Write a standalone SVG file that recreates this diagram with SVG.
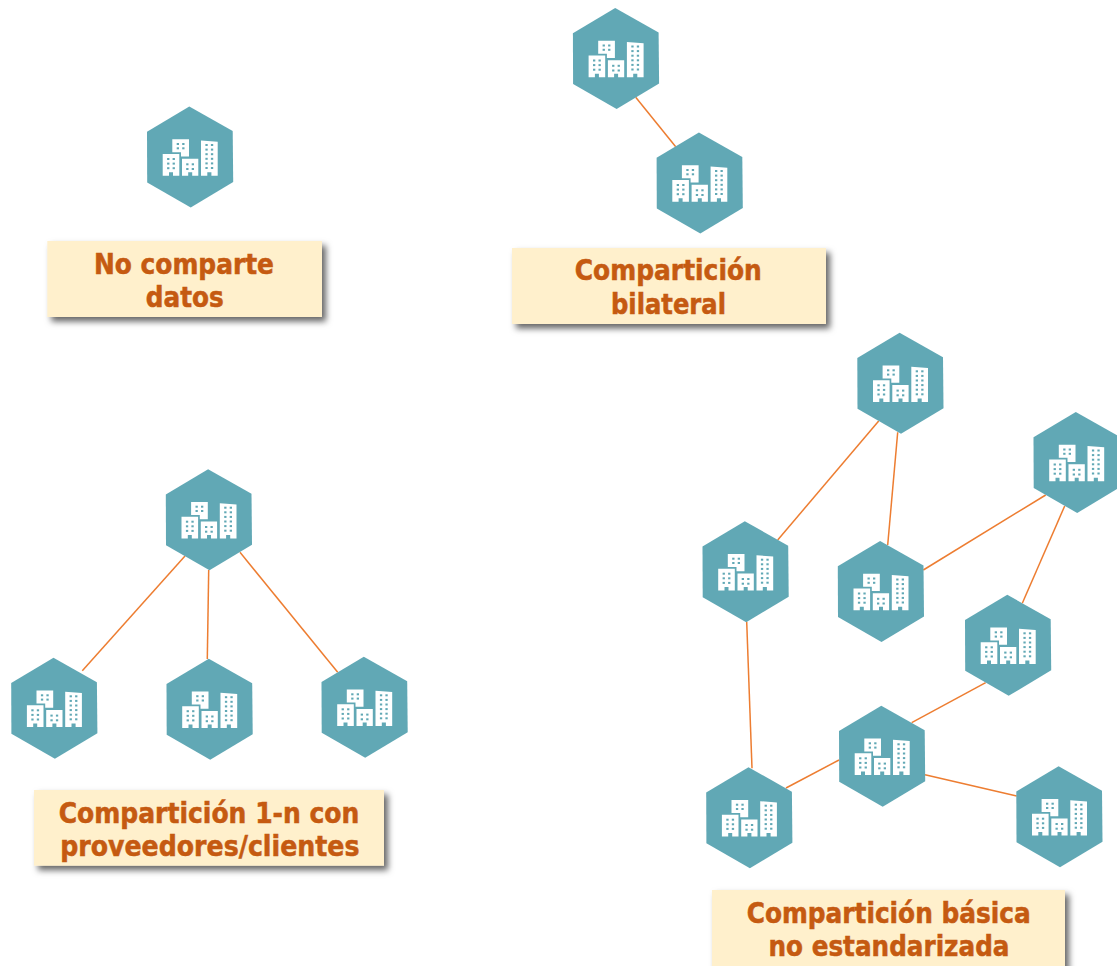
<svg xmlns="http://www.w3.org/2000/svg" xmlns:xlink="http://www.w3.org/1999/xlink" width="1117" height="966" viewBox="0 0 1117 966">
<style>
.c{stroke:#ED7D31;stroke-width:1.5;fill:none}
.hex{fill:#61A8B5}
.b{fill:#fff}
.w{fill:#61A8B5}
.box{fill:#FFF0CC;filter:url(#sh)}
.t{font-family:"DejaVu Sans","Liberation Sans",sans-serif;font-weight:700;font-size:27.5px;fill:#C55A11;stroke:#C55A11;stroke-width:0.55;text-anchor:middle}
</style>
<defs>
<filter id="sh" x="-10%" y="-20%" width="120%" height="150%">
<feDropShadow dx="4" dy="4.5" stdDeviation="3" flood-color="#000" flood-opacity="0.6"/>
</filter>
<g id="win2"><rect x="-3.9" y="-1" width="2.3" height="2"/><rect x="1.6" y="-1" width="2.3" height="2"/></g>
<g id="node">
<polygon class="hex" points="-0.7,-50.5 42.7,-26 43.2,25 0.7,50.5 -42.8,25.5 -43,-25.2"/>
<path class="b" d="M-27.3,-3H-10.7V18.7H-17V15.2H-21V18.7H-27.3Z"/>
<path class="b" d="M-17.7,-17.8H-1V-0.5H-9V-4.7H-17.7Z"/>
<path class="b" d="M-8,1.8H8.3V18.7H2.2V15.2H-1.8V18.7H-8Z"/>
<path class="b" d="M11,-16.5L27.7,-15.2V18.7H21.4V15.2H17.3V18.7H11Z"/>
<g class="w">
<use href="#win2" x="-19" y="2"/><use href="#win2" x="-19" y="6.6"/><use href="#win2" x="-19" y="11.2"/>
<use href="#win2" x="-9.4" y="-13"/><use href="#win2" x="-9.4" y="-8.7"/>
<use href="#win2" x="0.1" y="7.3"/><use href="#win2" x="0.1" y="12"/>
<use href="#win2" x="19.3" y="-12"/><use href="#win2" x="19.3" y="-7.4"/><use href="#win2" x="19.3" y="-2.8"/><use href="#win2" x="19.3" y="1.8"/><use href="#win2" x="19.3" y="6.4"/><use href="#win2" x="19.3" y="11"/>
</g>
</g>
</defs>
<rect width="1117" height="966" fill="#fff"/>
<g id="connectors">
<line class="c" x1="635.7" y1="97.3" x2="675.7" y2="146.7"/>
<line class="c" x1="185" y1="556" x2="82.3" y2="670.7"/>
<line class="c" x1="208.7" y1="570" x2="207.3" y2="659"/>
<line class="c" x1="240" y1="552.3" x2="337.7" y2="672.3"/>
<line class="c" x1="878.7" y1="421" x2="777.7" y2="540"/>
<line class="c" x1="897.7" y1="432.3" x2="887.7" y2="545"/>
<line class="c" x1="1045.7" y1="495" x2="923.3" y2="570"/>
<line class="c" x1="1064.7" y1="506" x2="1022.3" y2="603.3"/>
<line class="c" x1="746.7" y1="621.7" x2="752" y2="768.3"/>
<line class="c" x1="985.7" y1="682.7" x2="911.7" y2="722.7"/>
<line class="c" x1="839" y1="760" x2="786" y2="788"/>
<line class="c" x1="925" y1="774.7" x2="1016.7" y2="796"/>
</g>
<g id="n1"><use href="#node" x="190" y="157"/></g>
<g id="n2"><use href="#node" x="615.9" y="58.5"/></g>
<g id="n3"><use href="#node" x="699.6" y="183"/></g>
<g id="n4"><use href="#node" x="208.8" y="519.7"/></g>
<g id="n5"><use href="#node" x="54.2" y="708.3"/></g>
<g id="n6"><use href="#node" x="209.5" y="709.2"/></g>
<g id="n7"><use href="#node" x="364.5" y="707.3"/></g>
<g id="n8"><use href="#node" x="900.3" y="383.3"/></g>
<g id="n9"><use href="#node" x="1076.5" y="462.5"/></g>
<g id="n10"><use href="#node" x="745.5" y="571.7"/></g>
<g id="n11"><use href="#node" x="880.8" y="591.5"/></g>
<g id="n12"><use href="#node" x="1008" y="645.3"/></g>
<g id="n13"><use href="#node" x="882" y="756.3"/></g>
<g id="n14"><use href="#node" x="749.2" y="817.7"/></g>
<g id="n15"><use href="#node" x="1059.3" y="816.7"/></g>
<g id="label1">
<rect class="box" x="47.3" y="241" width="274.7" height="76"/>
<text class="t" x="184" y="273.5" textLength="180" lengthAdjust="spacingAndGlyphs">No comparte</text>
<text class="t" x="184.8" y="307" textLength="78" lengthAdjust="spacingAndGlyphs">datos</text>
</g>
<g id="label2">
<rect class="box" x="512" y="248" width="314" height="76"/>
<text class="t" x="668.3" y="279.5" textLength="187" lengthAdjust="spacingAndGlyphs">Compartición</text>
<text class="t" x="668.5" y="313.5" textLength="115" lengthAdjust="spacingAndGlyphs">bilateral</text>
</g>
<g id="label3">
<rect class="box" x="34" y="790" width="350" height="75.7"/>
<text class="t" x="209" y="822.7" textLength="300.7" lengthAdjust="spacingAndGlyphs">Compartición 1-n con</text>
<text class="t" x="209.8" y="855.7" textLength="299.3" lengthAdjust="spacingAndGlyphs">proveedores/clientes</text>
</g>
<g id="label4">
<rect class="box" x="712" y="890" width="353" height="80"/>
<text class="t" x="888.7" y="923" textLength="284" lengthAdjust="spacingAndGlyphs">Compartición básica</text>
<text class="t" x="889" y="956" textLength="241" lengthAdjust="spacingAndGlyphs">no estandarizada</text>
</g>
</svg>
